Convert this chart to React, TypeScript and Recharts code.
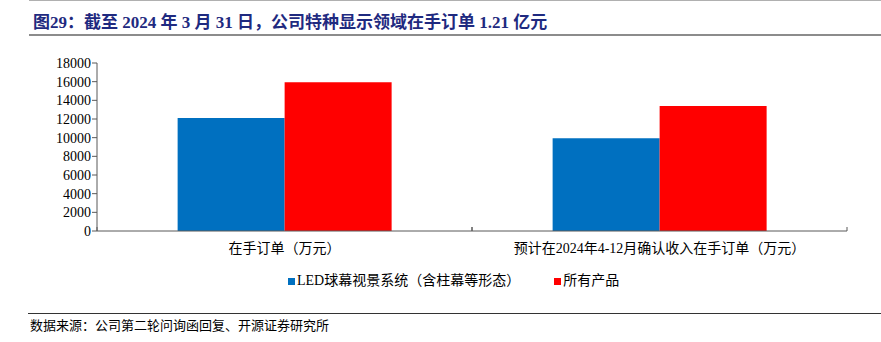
import { BarChart, Bar, XAxis, YAxis } from 'recharts';

const categories = ['在手订单（万元）', '预计在2024年4-12月确认收入在手订单（万元）'];
const ledValues = [12100, 9950];
const allValues = [15950, 13400];
const yTicks = [0, 2000, 4000, 6000, 8000, 10000, 12000, 14000, 16000, 18000];

const series = [
  { key: 'led', name: 'LED球幕视景系统（含柱幕等形态）', color: '#0070C0', values: ledValues },
  { key: 'all', name: '所有产品', color: '#FF0000', values: allValues },
];

const data = categories.map((name, i) => ({
  name,
  led: ledValues[i],
  all: allValues[i],
}));

const FONT = '"Liberation Serif", "Noto Sans CJK SC", serif';

const CategoryTick = (props: any) => {
  const { x, y, payload } = props;
  const half = payload && payload.offset ? payload.offset : 187.5;
  return (
    <g>
      <line x1={x - half} y1={y} x2={x - half} y2={y - 4} stroke="#595959" />
      <line x1={x + half} y1={y} x2={x + half} y2={y - 4} stroke="#595959" />
      <text x={x} y={y + 22} textAnchor="middle" fontSize={14} fontFamily={FONT} fill="#000">
        {payload.value}
      </text>
    </g>
  );
};

export default function App() {
  return (
    <div style={{ position: 'absolute', left: 0, top: 0, width: 881, height: 342, background: '#fff', fontFamily: FONT }}>
      <div style={{ position: 'absolute', left: 29, right: 0, top: 0, borderTop: '1px solid #b0b0b0' }} />
      <div
        style={{
          position: 'absolute',
          left: 33,
          top: 13,
          fontSize: 17,
          fontWeight: 'bold',
          color: '#1f2a80',
          whiteSpace: 'nowrap',
          lineHeight: '20px',
        }}
      >
        图29：截至 2024 年 3 月 31 日，公司特种显示领域在手订单 1.21 亿元
      </div>
      <div style={{ position: 'absolute', left: 29, right: 0, top: 34, borderTop: '2px solid #8c8c8c' }} />

      <BarChart
        width={881}
        height={342}
        data={data}
        margin={{ top: 63, right: 34, bottom: 81, left: 0 }}
        barCategoryGap="21.5%"
        barGap={0}
      >
        <XAxis
          dataKey="name"
          height={30}
          axisLine={{ stroke: '#595959' }}
          tickLine={false}
          tickSize={0}
          tickMargin={0}
          tick={<CategoryTick />}
          interval={0}
        />
        <YAxis
          width={97}
          domain={[0, 18000]}
          ticks={yTicks}
          interval={0}
          axisLine={{ stroke: '#595959' }}
          tickLine={{ stroke: '#595959' }}
          tickSize={5}
          tickMargin={1}
          tick={{ fontSize: 14, fontFamily: FONT, fill: '#000' }}
        />
        {series.map((s) => (
          <Bar key={s.key} dataKey={s.key} name={s.name} fill={s.color} isAnimationActive={false} />
        ))}
      </BarChart>

      <div
        style={{
          position: 'absolute',
          left: 288,
          top: 272,
          display: 'flex',
          alignItems: 'center',
          fontSize: 14,
          whiteSpace: 'nowrap',
          lineHeight: '18px',
        }}
      >
        {series.map((s, i) => (
          <div key={s.key} style={{ display: 'flex', alignItems: 'center', marginRight: i === 0 ? 34 : 0 }}>
            <span style={{ display: 'inline-block', width: 7, height: 7, background: s.color, marginRight: 2 }} />
            <span>{s.name}</span>
          </div>
        ))}
      </div>

      <div style={{ position: 'absolute', left: 28, right: 0, top: 313, borderTop: '1px solid #333' }} />
      <div style={{ position: 'absolute', left: 30, top: 318, fontSize: 13, lineHeight: '16px', whiteSpace: 'nowrap' }}>
        数据来源：公司第二轮问询函回复、开源证券研究所
      </div>
    </div>
  );
}
